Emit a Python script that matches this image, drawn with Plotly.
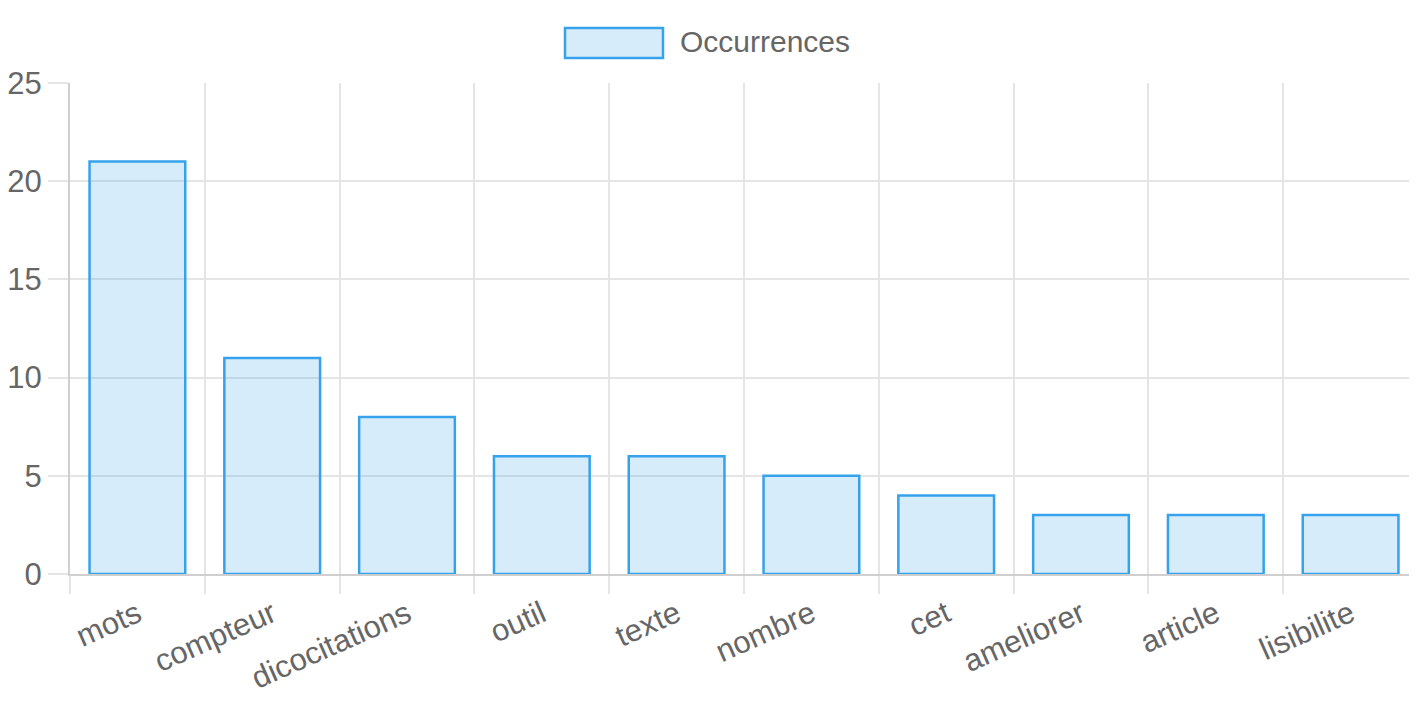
import plotly.graph_objects as go

categories = ["mots", "compteur", "dicocitations", "outil", "texte",
              "nombre", "cet", "ameliorer", "article", "lisibilite"]
occurrences = [21, 11, 8, 6, 6, 5, 4, 3, 3, 3]
series_name = "Occurrences"
y_ticks = [0, 5, 10, 15, 20, 25]

FILL = "rgba(54,162,235,0.2)"
LINE = "rgb(54,162,235)"
FONT = "Liberation Sans, Arial, Helvetica, sans-serif"
TXT = "#666666"
GRID = "#e5e5e5"

# page has an 8px body margin; figure coordinates are page minus 8
OFF = 8
PL, PR, PT, PB = 70 - OFF, 1418 - OFF, 83 - OFF, 574 - OFF
W, H = 1410, 699
PW, PH = PR - PL, PB - PT

fig = go.Figure()
fig.add_trace(go.Bar(
    x=categories, y=occurrences, name=series_name,
    marker=dict(color=FILL, line=dict(color=LINE, width=2.5)),
    showlegend=False,
))

# legend drawn Chart.js style
fig.add_shape(type="rect", xref="paper", yref="paper",
              x0=(565 - OFF - PL) / PW, x1=(663 - OFF - PL) / PW,
              y0=(PB - (58 - OFF)) / PH, y1=(PB - (28 - OFF)) / PH,
              fillcolor=FILL, line=dict(color=LINE, width=2.5))
fig.add_annotation(text=series_name, xref="paper", yref="paper",
                   x=(678 - OFF - PL) / PW, y=(PB - (42 - OFF)) / PH,
                   xanchor="left", yanchor="middle", showarrow=False,
                   font=dict(family=FONT, size=30, color=TXT))

fig.update_layout(
    width=W, height=H,
    margin=dict(l=PL, r=max(0, W - PR), t=PT, b=H - PB),
    paper_bgcolor="white", plot_bgcolor="white",
    bargap=0.29,
    font=dict(family=FONT, size=30, color=TXT),
)
fig.update_xaxes(
    type="category", tickson="boundaries", ticks="outside", ticklen=18,
    tickcolor=GRID, tickwidth=2, showgrid=True, gridcolor=GRID, gridwidth=2,
    showline=True, linecolor="#cfcfcf", linewidth=2,
    tickangle=-24, ticklabelstandoff=8,
    tickfont=dict(family=FONT, size=31, color=TXT),
)
fig.update_yaxes(
    range=[0, 25], tickvals=y_ticks, ticks="outside", ticklen=20,
    tickcolor=GRID, tickwidth=2, showgrid=True, gridcolor=GRID, gridwidth=2,
    showline=True, linecolor="#cfcfcf", linewidth=2, zeroline=False,
    tickfont=dict(family=FONT, size=31, color=TXT),
)

fig.write_html("out.html")
